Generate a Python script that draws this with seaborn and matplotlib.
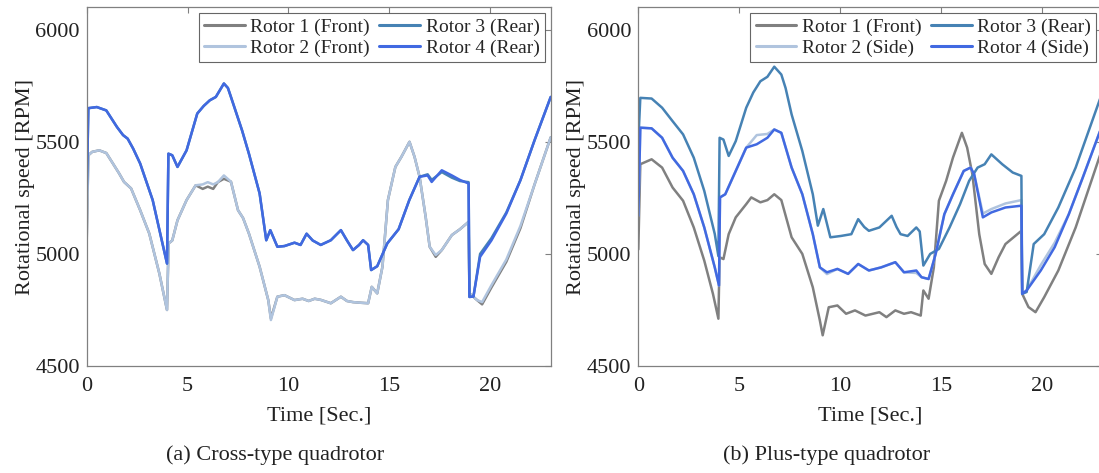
import matplotlib
matplotlib.use("Agg")
import matplotlib.pyplot as plt
import seaborn as sns

# ---- (a) cross-type: front rotors 1/2 and rear rotors 3/4 ----
t_a_front = [0, 0.08, 0.27, 0.62, 0.97, 1.3, 1.6, 1.85, 2.2, 2.65, 3.1, 3.6, 3.98, 4.06, 4.24,
             4.5, 4.95, 5.4, 5.75, 6.0, 6.27, 6.5, 6.8, 7.15, 7.5, 7.75, 8.04, 8.57, 9.0, 9.13,
             9.45, 9.8, 10.3, 10.7, 11.0, 11.3, 11.6, 12.1, 12.6, 12.9, 13.2, 13.6, 13.95, 14.13,
             14.4, 14.66, 14.93, 15.3, 15.6, 16.0, 16.25, 16.5, 16.8, 17.0, 17.3, 17.6, 18.1,
             18.5, 18.93, 18.97, 19.35, 19.6, 20.06, 20.8, 21.5, 22.2, 23.0]
rotor1_a = [5060, 5440, 5455, 5462, 5450, 5403, 5360, 5321, 5292, 5195, 5091, 4913, 4750, 5047, 5060,
            5150, 5240, 5306, 5290, 5300, 5290, 5320, 5335, 5322, 5195, 5160, 5091, 4943, 4794, 4712,
            4809, 4816, 4794, 4800, 4790, 4800, 4795, 4780, 4809, 4790, 4785, 4782, 4780, 4853,
            4824, 4943, 5240, 5388, 5433, 5500, 5433, 5344, 5166, 5032, 4987, 5017, 5084,
            5110, 5143, 4824, 4794, 4775, 4850, 4965, 5115, 5310, 5520]
rotor2_a = [5060, 5440, 5455, 5462, 5450, 5403, 5360, 5321, 5292, 5195, 5091, 4913, 4750, 5047, 5060,
            5150, 5240, 5306, 5310, 5320, 5310, 5320, 5350, 5322, 5195, 5160, 5091, 4943, 4794, 4705,
            4809, 4816, 4794, 4800, 4790, 4800, 4795, 4780, 4809, 4790, 4785, 4782, 4780, 4853,
            4824, 4943, 5240, 5388, 5433, 5500, 5433, 5344, 5166, 5032, 4995, 5017, 5084,
            5110, 5143, 4824, 4794, 4785, 4860, 4975, 5125, 5310, 5520]

t_a_rear = [0, 0.08, 0.5, 0.97, 1.5, 1.8, 2.03, 2.3, 2.65, 3.27, 3.98, 4.05, 4.24, 4.5, 4.95,
            5.48, 5.8, 6.1, 6.4, 6.6, 6.8, 7.0, 7.15, 7.7, 8.04, 8.57, 8.9, 9.1, 9.45, 9.8,
            10.3, 10.6, 10.9, 11.2, 11.6, 12.1, 12.6, 12.9, 13.2, 13.5, 13.7, 13.95, 14.1, 14.4, 14.9,
            15.46, 15.99, 16.5, 16.9, 17.1, 17.6, 18.1, 18.5, 18.93, 18.97, 19.17, 19.5, 20.06,
            20.8, 21.5, 22.2, 23.0]
rotor3_a = [5265, 5650, 5655, 5640, 5566, 5530, 5514, 5470, 5403, 5240, 4957, 5447, 5440, 5388, 5462,
            5626, 5660, 5685, 5700, 5730, 5760, 5740, 5700, 5551, 5447, 5270, 5061, 5106, 5032, 5035,
            5050, 5040, 5090, 5060, 5040, 5061, 5106, 5060, 5017, 5040, 5061, 5040, 4928, 4945, 5047,
            5110, 5240, 5344, 5355, 5330, 5365, 5340, 5325, 5320, 4808, 4810, 5000, 5070,
            5185, 5329, 5507, 5700]
rotor4_a = [5265, 5650, 5655, 5640, 5566, 5530, 5514, 5470, 5403, 5240, 4957, 5447, 5440, 5388, 5462,
            5626, 5660, 5685, 5700, 5730, 5760, 5740, 5700, 5551, 5447, 5270, 5061, 5106, 5032, 5035,
            5050, 5040, 5090, 5060, 5040, 5061, 5106, 5060, 5017, 5040, 5061, 5040, 4928, 4945, 5047,
            5110, 5240, 5344, 5350, 5321, 5373, 5350, 5330, 5314, 4808, 4810, 4987, 5060,
            5180, 5329, 5507, 5700]

# ---- (b) plus-type: front rotor 1, side rotors 2/4, rear rotor 3 ----
t_b1 = [0, 0.1, 0.66, 1.18, 1.7, 2.22, 2.75, 3.27, 3.7, 3.97, 4.03, 4.22, 4.48, 4.83, 5.35,
        5.6, 6.05, 6.4, 6.74, 7.09, 7.6, 8.13, 8.65, 9.0, 9.14, 9.44, 9.87, 10.3, 10.74, 11.26,
        11.95, 12.3, 12.74, 13.17, 13.52, 14.0, 14.13, 14.39, 14.65, 14.9, 15.26, 15.6, 16.04,
        16.3, 16.56, 16.9, 17.17, 17.5, 17.86, 18.2, 18.99, 19.03, 19.34, 19.69, 20.12, 20.82,
        21.68, 23.0]
rotor1_b = [5020, 5400, 5422, 5385, 5296, 5237, 5118, 4970, 4822, 4711, 4985, 4977, 5088, 5163, 5222,
            5252, 5230, 5240, 5266, 5240, 5074, 5000, 4851, 4703, 4637, 4762, 4770, 4733, 4748, 4725,
            4740, 4718, 4748, 4733, 4740, 4725, 4837, 4800, 4940, 5237, 5326, 5430, 5540,
            5474, 5355, 5088, 4955, 4911, 4985, 5044, 5103, 4822, 4763, 4740, 4807, 4926,
            5118, 5470]

t_b_side = [0, 0.1, 0.66, 1.18, 1.7, 2.22, 2.75, 3.27, 3.79, 4.0, 4.05, 4.31, 4.83, 5.35, 5.87,
            6.4, 6.74, 7.09, 7.6, 8.13, 8.65, 9.0, 9.35, 9.87, 10.4, 10.9, 11.43, 12.04, 12.74, 13.17,
            13.78, 14.04, 14.39, 14.74, 15.17, 15.6, 16.13, 16.47, 16.65, 17.08, 17.5, 18.2, 18.99,
            19.03, 19.25, 19.95, 20.64, 21.34, 22.03, 23.0]
rotor2_b = [5170, 5563, 5560, 5518, 5429, 5370, 5266, 5118, 4940, 4859, 5252, 5266, 5370, 5474, 5530,
            5535, 5555, 5540, 5385, 5266, 5088, 4940, 4910, 4933, 4911, 4955, 4926, 4940, 4963, 4918,
            4915, 4896, 4888, 5000, 5177, 5266, 5370, 5385, 5355, 5180, 5200, 5225, 5240,
            4822, 4837, 4950, 5050, 5177, 5340, 5575]
rotor4_b = [5170, 5563, 5560, 5518, 5429, 5370, 5266, 5118, 4940, 4859, 5252, 5266, 5370, 5474, 5489,
            5518, 5555, 5540, 5385, 5266, 5088, 4940, 4918, 4933, 4911, 4955, 4926, 4940, 4963, 4918,
            4926, 4896, 4888, 5000, 5177, 5266, 5370, 5385, 5355, 5163, 5185, 5207, 5215,
            4822, 4837, 4926, 5030, 5177, 5340, 5575]

t_b3 = [0, 0.1, 0.66, 1.18, 1.7, 2.22, 2.75, 3.27, 3.79, 3.97, 4.03, 4.22, 4.48, 4.83, 5.35,
        5.7, 6.05, 6.4, 6.74, 7.09, 7.3, 7.6, 8.13, 8.65, 8.9, 9.17, 9.52, 10.04, 10.56, 10.9,
        11.2, 11.43, 11.95, 12.56, 12.8, 13.0, 13.35, 13.78, 13.95, 14.13, 14.47, 14.9, 15.43,
        15.95, 16.4, 16.82, 17.17, 17.5, 18.04, 18.56, 18.99, 19.03, 19.25, 19.6, 20.12, 20.82,
        21.68, 23.0]
rotor3_b = [5500, 5696, 5693, 5652, 5592, 5533, 5429, 5281, 5089, 4990, 5518, 5510, 5437, 5503, 5652,
            5720, 5770, 5790, 5835, 5800, 5740, 5622, 5459, 5266, 5126, 5200, 5074, 5080, 5088, 5155,
            5120, 5103, 5118, 5170, 5120, 5088, 5080, 5118, 5100, 4948, 5000, 5022, 5118,
            5222, 5326, 5385, 5400, 5444, 5400, 5363, 5348, 4822, 4830, 5044, 5088, 5207,
            5385, 5720]

labels_a = ["Rotor 1 (Front)", "Rotor 2 (Front)", "Rotor 3 (Rear)", "Rotor 4 (Rear)"]
labels_b = ["Rotor 1 (Front)", "Rotor 2 (Side)", "Rotor 3 (Rear)", "Rotor 4 (Side)"]
colors = ["#808080", "#b0c4de", "#4682b4", "#4169e1"]
captions = ["(a) Cross-type quadrotor", "(b) Plus-type quadrotor"]

sns.set_style("white")
plt.rcParams["font.family"] = ["Liberation Serif", "DejaVu Serif"]

fig = plt.figure(figsize=(10.99, 4.73), dpi=100)
ax_a = fig.add_axes([0.0789, 0.2262, 0.4222, 0.7584])
ax_b = fig.add_axes([0.5808, 0.2262, 0.4222, 0.7584])

series_a = [(t_a_front, rotor1_a), (t_a_front, rotor2_a), (t_a_rear, rotor3_a), (t_a_rear, rotor4_a)]
series_b = [(t_b1, rotor1_b), (t_b_side, rotor2_b), (t_b3, rotor3_b), (t_b_side, rotor4_b)]

for ax, series, labels, cap, cx in [(ax_a, series_a, labels_a, captions[0], 0.25),
                                     (ax_b, series_b, labels_b, captions[1], 0.752)]:
    for (t, v), lab, col in zip(series, labels, colors):
        sns.lineplot(x=t, y=v, ax=ax, color=col, label=lab, linewidth=1.8,
                     estimator=None, sort=False)
    ax.set_xlim(0, 23)
    ax.set_ylim(4500, 6100)
    ax.set_xticks([0, 5, 10, 15, 20])
    ax.set_yticks([4500, 5000, 5500, 6000])
    ax.tick_params(direction="in", top=True, right=True, length=4, width=0.8,
                   color="#808080", labelsize=16, labelcolor="#222222")
    ax.tick_params(axis="x", pad=8)
    ax.tick_params(axis="y", pad=5)
    for sp in ax.spines.values():
        sp.set_color("#808080")
        sp.set_linewidth(0.9)
    ax.set_xlabel("Time [Sec.]", fontsize=16, color="#222222")
    ax.set_ylabel("Rotational speed [RPM]", fontsize=16, color="#222222")
    ax.xaxis.set_label_coords(0.5, -0.112)
    ax.yaxis.set_label_coords(-0.112, 0.5)
    leg = ax.legend(loc="upper right", ncol=2, fontsize=14, frameon=True, fancybox=False,
                    borderaxespad=0.3, borderpad=0.28, labelspacing=0.15,
                    handlelength=2.1, handletextpad=0.27, columnspacing=0.5)
    leg.get_frame().set_edgecolor("#404040")
    leg.get_frame().set_linewidth(0.8)
    for line in leg.get_lines():
        line.set_linewidth(2.2)
    fig.text(cx, 0.038, cap, ha="center", va="center", fontsize=16, color="#222222")

fig.savefig("out.png", dpi=100)
